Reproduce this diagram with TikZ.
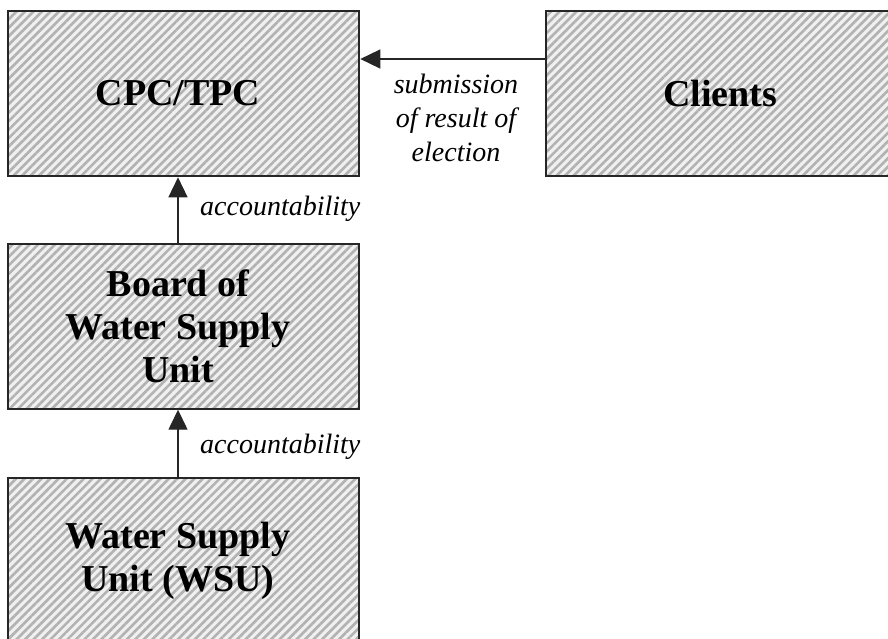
\documentclass[tikz,border=0pt]{standalone}
\usepackage{fontspec}
\setmainfont{Liberation Serif}
\usetikzlibrary{arrows.meta,patterns.meta}

\begin{document}
\begin{tikzpicture}[x=1pt,y=-1pt,>={Triangle[length=20pt,width=19pt]},
	unitbox/.style = {draw=black!85,line width=1.4pt,rectangle,inner sep=0pt,minimum width=351pt,minimum height=165pt,
		preaction={fill=black!6},pattern={Lines[angle=45,distance=6pt,line width=2.6pt]},pattern color=black!30},
	boxtext/.style = {align=center,inner sep=0pt,xshift=-5.5pt,font=\fontsize{38}{43}\selectfont\bfseries},
	lab/.style = {font=\fontsize{28}{34}\selectfont\itshape,inner sep=0pt}
	]
	\path[use as bounding box,clip] (0,0) rectangle (888,639);
	%RIQUADRI
	\node[unitbox,label={[boxtext]center:CPC/TPC}] (cpc) at (183.5,93.5) {};
	\node[unitbox,minimum width=348pt,label={[boxtext,xshift=5.5pt]center:Clients}] (clients) at (720,93.5) {};
	\node[unitbox,label={[boxtext]center:{Board of\\Water Supply\\Unit}}] (board) at (183.5,326.5) {};
	\node[unitbox,label={[boxtext]center:{Water Supply\\Unit (WSU)}}] (wsu) at (183.5,560.5) {};
	%FRECCE
	\draw[->,line width=1.4pt,black!85] ([xshift=-5.5pt]board.north) -- ([xshift=-5.5pt]cpc.south);
	\draw[->,line width=1.4pt,black!85] ([xshift=-5.5pt]wsu.north) -- ([xshift=-5.5pt]board.south);
	\draw[->,line width=1.4pt,black!85] ([yshift=34.5pt]clients.west) -- ([yshift=34.5pt]cpc.east);
	%ETICHETTE
	\node[lab,anchor=base west] (acc1) at (200,215) {accountability};
	\node[lab,anchor=base west] (acc2) at (200,453) {accountability};
	\node[lab,align=center] (sub) at (456,118) {submission\\of result of\\election};
\end{tikzpicture}
\end{document}
